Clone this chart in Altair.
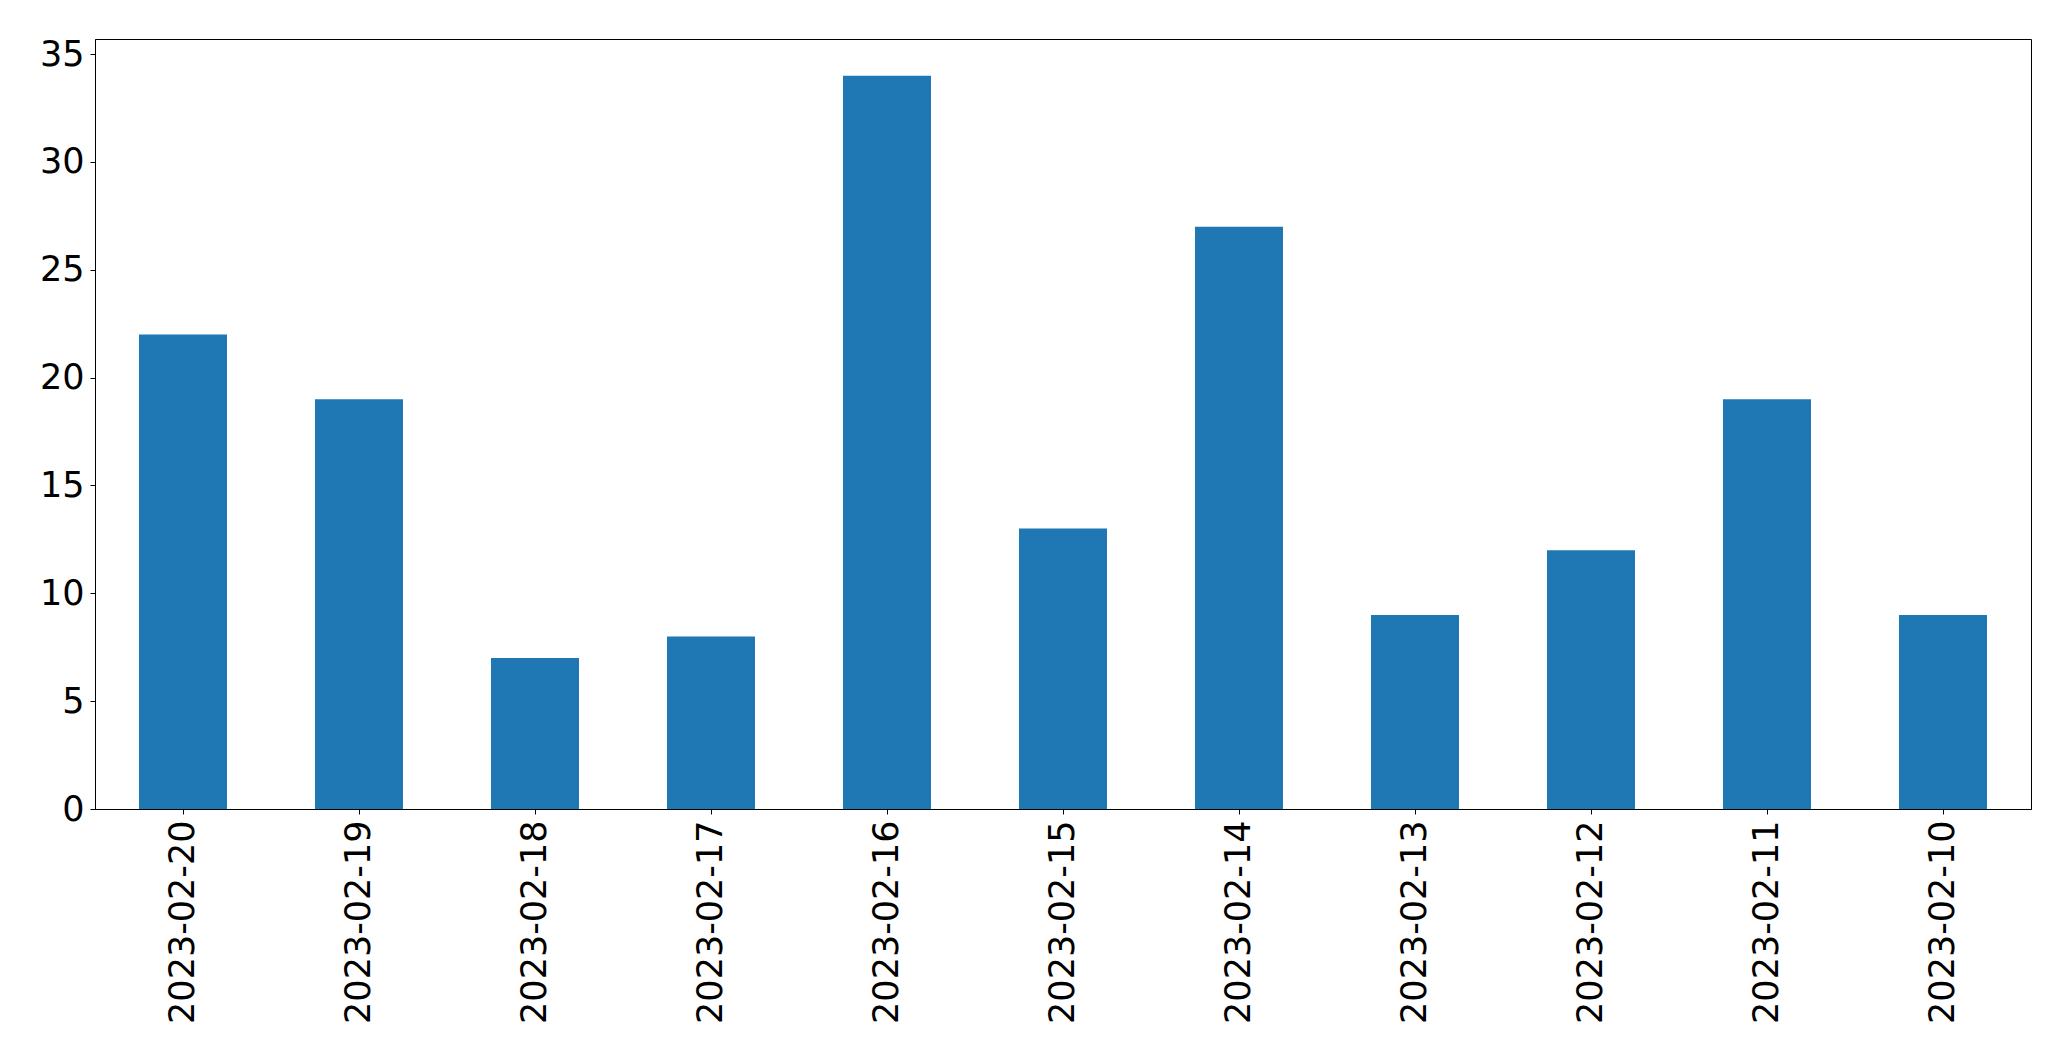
import altair as alt
import pandas as pd

dates = ["2023-02-20", "2023-02-19", "2023-02-18", "2023-02-17", "2023-02-16",
         "2023-02-15", "2023-02-14", "2023-02-13", "2023-02-12", "2023-02-11",
         "2023-02-10"]
counts = [22, 19, 7, 8, 34, 13, 27, 9, 12, 19, 9]
y_ticks = [0, 5, 10, 15, 20, 25, 30, 35]

df = pd.DataFrame({"date": dates, "count": counts})

chart = alt.Chart(df).mark_bar(color="#1f77b4").encode(
    x=alt.X("date:N", sort=dates,
            scale=alt.Scale(paddingInner=0.5, paddingOuter=0.25),
            axis=alt.Axis(title=None, labelAngle=-90, labelFontSize=35,
                          labelFont="DejaVu Sans", labelColor="black",
                          tickColor="black", tickSize=5, tickWidth=1,
                          domainColor="black", labelPadding=6, labelLimit=0,
                          labelBaseline="middle", labelAlign="right")),
    y=alt.Y("count:Q", scale=alt.Scale(domain=[0, 35.7], nice=False, zero=True),
            axis=alt.Axis(title=None, values=y_ticks, labelFontSize=35,
                          labelFont="DejaVu Sans", labelColor="black",
                          tickColor="black", tickSize=5, tickWidth=1,
                          domainColor="black", labelPadding=6, grid=False)),
).properties(
    width=1936, height=770,
    background="white",
    autosize=alt.AutoSizeParams(type="none"),
    padding={"left": 87, "top": 31, "right": 30, "bottom": 240},
).configure_view(
    stroke="black", strokeWidth=1, strokeOpacity=1
)

chart.save("out.html", embed_options={"renderer": "svg", "actions": False})
